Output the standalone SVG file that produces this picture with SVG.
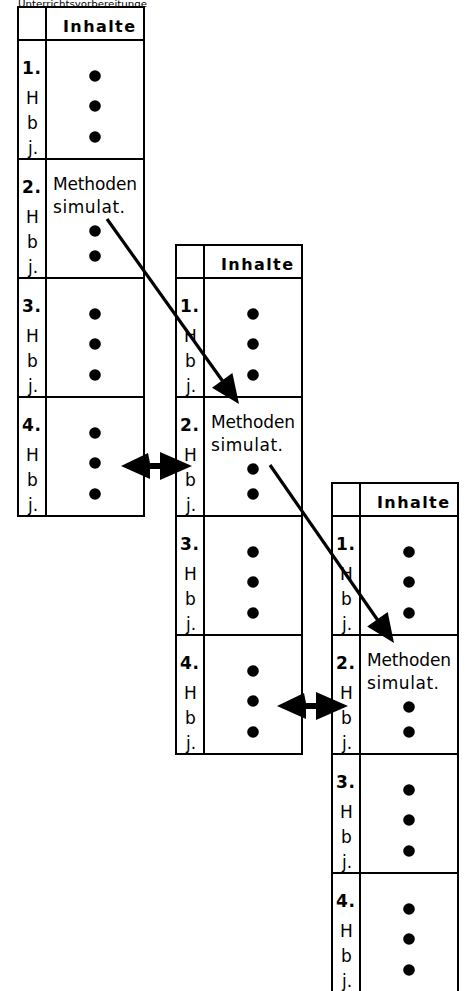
<svg xmlns="http://www.w3.org/2000/svg" width="467" height="991" viewBox="0 0 467 991">
  <style>
    .frame { fill: #fff; stroke: #000; stroke-width: 2; }
    .rule { stroke: #000; stroke-width: 2; }
    .hd { font-family: "DejaVu Sans", "Liberation Sans", sans-serif; font-weight: bold; font-size: 16px; fill: #000; }
    .num { font-family: "DejaVu Sans", "Liberation Sans", sans-serif; font-weight: bold; font-size: 17px; fill: #000; }
    .lbl { font-family: "DejaVu Sans", "Liberation Sans", sans-serif; font-size: 17px; fill: #000; }
    .txt { font-family: "DejaVu Sans", "Liberation Sans", sans-serif; font-size: 17px; fill: #000; }
    .title { font-family: "DejaVu Sans", "Liberation Sans", sans-serif; font-size: 9px; fill: #000; }
    .dot { fill: #000; }
    .conn { stroke: #000; stroke-width: 3.2; fill: none; }
    .head { fill: #000; stroke: none; }
  </style>
  <rect x="0" y="0" width="467" height="991" fill="#fff"/>

  <!-- title strip above the first table -->
  <text class="title" x="18" y="7" textLength="129" lengthAdjust="spacingAndGlyphs">Unterrichtsvorbereitunge</text>

  <!-- lesson plan table 1 -->
  <g id="table1" transform="translate(18,7)">
    <rect class="frame" x="0" y="0" width="126" height="509"/>
    <line class="rule" x1="28" y1="0" x2="28" y2="509"/>
    <line class="rule" x1="0" y1="33" x2="126" y2="33"/>
    <line class="rule" x1="0" y1="152" x2="126" y2="152"/>
    <line class="rule" x1="0" y1="271" x2="126" y2="271"/>
    <line class="rule" x1="0" y1="390" x2="126" y2="390"/>
    <text class="hd" x="45" y="25" textLength="72" lengthAdjust="spacing">Inhalte</text>
    <!-- row 1 -->
    <text class="num" x="4" y="67" textLength="19" lengthAdjust="spacing">1.</text>
    <text class="lbl" x="8" y="97">H</text>
    <text class="lbl" x="9" y="122">b</text>
    <text class="lbl" x="10" y="147">j.</text>
    <circle class="dot" cx="77" cy="69" r="5.8"/>
    <circle class="dot" cx="77" cy="99" r="5.8"/>
    <circle class="dot" cx="77" cy="130" r="5.8"/>
    <!-- row 2 -->
    <text class="num" x="4" y="186" textLength="19" lengthAdjust="spacing">2.</text>
    <text class="lbl" x="8" y="216">H</text>
    <text class="lbl" x="9" y="241">b</text>
    <text class="lbl" x="10" y="266">j.</text>
    <text class="txt" x="35" y="183" textLength="84" lengthAdjust="spacing">Methoden</text>
    <text class="txt" x="35" y="206" textLength="72" lengthAdjust="spacing">simulat.</text>
    <circle class="dot" cx="77" cy="224" r="5.8"/>
    <circle class="dot" cx="77" cy="249" r="5.8"/>
    <!-- row 3 -->
    <text class="num" x="4" y="305" textLength="19" lengthAdjust="spacing">3.</text>
    <text class="lbl" x="8" y="335">H</text>
    <text class="lbl" x="9" y="360">b</text>
    <text class="lbl" x="10" y="385">j.</text>
    <circle class="dot" cx="77" cy="307" r="5.8"/>
    <circle class="dot" cx="77" cy="337" r="5.8"/>
    <circle class="dot" cx="77" cy="368" r="5.8"/>
    <!-- row 4 -->
    <text class="num" x="4" y="424" textLength="19" lengthAdjust="spacing">4.</text>
    <text class="lbl" x="8" y="454">H</text>
    <text class="lbl" x="9" y="479">b</text>
    <text class="lbl" x="10" y="504">j.</text>
    <circle class="dot" cx="77" cy="426" r="5.8"/>
    <circle class="dot" cx="77" cy="456" r="5.8"/>
    <circle class="dot" cx="77" cy="487" r="5.8"/>
  </g>

  <!-- lesson plan table 2 -->
  <g id="table2" transform="translate(176,245)">
    <rect class="frame" x="0" y="0" width="126" height="509"/>
    <line class="rule" x1="28" y1="0" x2="28" y2="509"/>
    <line class="rule" x1="0" y1="33" x2="126" y2="33"/>
    <line class="rule" x1="0" y1="152" x2="126" y2="152"/>
    <line class="rule" x1="0" y1="271" x2="126" y2="271"/>
    <line class="rule" x1="0" y1="390" x2="126" y2="390"/>
    <text class="hd" x="45" y="25" textLength="72" lengthAdjust="spacing">Inhalte</text>
    <text class="num" x="4" y="67" textLength="19" lengthAdjust="spacing">1.</text>
    <text class="lbl" x="8" y="97">H</text>
    <text class="lbl" x="9" y="122">b</text>
    <text class="lbl" x="10" y="147">j.</text>
    <circle class="dot" cx="77" cy="69" r="5.8"/>
    <circle class="dot" cx="77" cy="99" r="5.8"/>
    <circle class="dot" cx="77" cy="130" r="5.8"/>
    <text class="num" x="4" y="186" textLength="19" lengthAdjust="spacing">2.</text>
    <text class="lbl" x="8" y="216">H</text>
    <text class="lbl" x="9" y="241">b</text>
    <text class="lbl" x="10" y="266">j.</text>
    <text class="txt" x="35" y="183" textLength="84" lengthAdjust="spacing">Methoden</text>
    <text class="txt" x="35" y="206" textLength="72" lengthAdjust="spacing">simulat.</text>
    <circle class="dot" cx="77" cy="224" r="5.8"/>
    <circle class="dot" cx="77" cy="249" r="5.8"/>
    <text class="num" x="4" y="305" textLength="19" lengthAdjust="spacing">3.</text>
    <text class="lbl" x="8" y="335">H</text>
    <text class="lbl" x="9" y="360">b</text>
    <text class="lbl" x="10" y="385">j.</text>
    <circle class="dot" cx="77" cy="307" r="5.8"/>
    <circle class="dot" cx="77" cy="337" r="5.8"/>
    <circle class="dot" cx="77" cy="368" r="5.8"/>
    <text class="num" x="4" y="424" textLength="19" lengthAdjust="spacing">4.</text>
    <text class="lbl" x="8" y="454">H</text>
    <text class="lbl" x="9" y="479">b</text>
    <text class="lbl" x="10" y="504">j.</text>
    <circle class="dot" cx="77" cy="426" r="5.8"/>
    <circle class="dot" cx="77" cy="456" r="5.8"/>
    <circle class="dot" cx="77" cy="487" r="5.8"/>
  </g>

  <!-- lesson plan table 3 (runs past the bottom edge) -->
  <g id="table3" transform="translate(332,483)">
    <rect class="frame" x="0" y="0" width="126" height="509"/>
    <line class="rule" x1="28" y1="0" x2="28" y2="509"/>
    <line class="rule" x1="0" y1="33" x2="126" y2="33"/>
    <line class="rule" x1="0" y1="152" x2="126" y2="152"/>
    <line class="rule" x1="0" y1="271" x2="126" y2="271"/>
    <line class="rule" x1="0" y1="390" x2="126" y2="390"/>
    <text class="hd" x="45" y="25" textLength="72" lengthAdjust="spacing">Inhalte</text>
    <text class="num" x="4" y="67" textLength="19" lengthAdjust="spacing">1.</text>
    <text class="lbl" x="8" y="97">H</text>
    <text class="lbl" x="9" y="122">b</text>
    <text class="lbl" x="10" y="147">j.</text>
    <circle class="dot" cx="77" cy="69" r="5.8"/>
    <circle class="dot" cx="77" cy="99" r="5.8"/>
    <circle class="dot" cx="77" cy="130" r="5.8"/>
    <text class="num" x="4" y="186" textLength="19" lengthAdjust="spacing">2.</text>
    <text class="lbl" x="8" y="216">H</text>
    <text class="lbl" x="9" y="241">b</text>
    <text class="lbl" x="10" y="266">j.</text>
    <text class="txt" x="35" y="183" textLength="84" lengthAdjust="spacing">Methoden</text>
    <text class="txt" x="35" y="206" textLength="72" lengthAdjust="spacing">simulat.</text>
    <circle class="dot" cx="77" cy="224" r="5.8"/>
    <circle class="dot" cx="77" cy="249" r="5.8"/>
    <text class="num" x="4" y="305" textLength="19" lengthAdjust="spacing">3.</text>
    <text class="lbl" x="8" y="335">H</text>
    <text class="lbl" x="9" y="360">b</text>
    <text class="lbl" x="10" y="385">j.</text>
    <circle class="dot" cx="77" cy="307" r="5.8"/>
    <circle class="dot" cx="77" cy="337" r="5.8"/>
    <circle class="dot" cx="77" cy="368" r="5.8"/>
    <text class="num" x="4" y="424" textLength="19" lengthAdjust="spacing">4.</text>
    <text class="lbl" x="8" y="454">H</text>
    <text class="lbl" x="9" y="479">b</text>
    <text class="lbl" x="10" y="504">j.</text>
    <circle class="dot" cx="77" cy="426" r="5.8"/>
    <circle class="dot" cx="77" cy="456" r="5.8"/>
    <circle class="dot" cx="77" cy="487" r="5.8"/>
  </g>

  <!-- connectors -->
  <g id="connectors">
    <line class="conn" x1="107" y1="219" x2="224" y2="383"/>
    <polygon class="head" points="239,404 232.4,373.1 212,387.7"/>
    <line class="conn" x1="270" y1="465" x2="379" y2="622"/>
    <polygon class="head" points="394,643 387.7,612.1 367.2,626.4"/>
    <path class="head" d="M121,466 L148,453 L150,463 L160,463 L160,452 L192,466 L160,480 L160,469 L150,469 L150,479 Z"/>
    <path class="head" transform="translate(156,240)" d="M121,466 L148,453 L150,463 L160,463 L160,452 L192,466 L160,480 L160,469 L150,469 L150,479 Z"/>
  </g>
</svg>
